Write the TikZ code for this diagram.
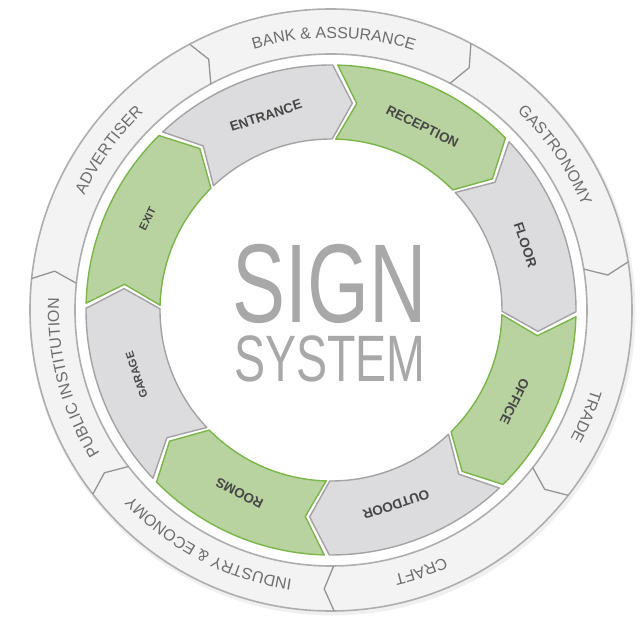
\documentclass[tikz,border=0pt]{standalone}
\usepackage{fontspec}
\usetikzlibrary{decorations.text}
\newfontfamily\signfont[FakeStretch=0.71]{Liberation Sans}
\newfontfamily\segfont{Liberation Sans}
\newfontfamily\ringfam{Liberation Sans}
\definecolor{greyfill}{HTML}{DCDCDE}
\definecolor{greyedge}{HTML}{A3A3A3}
\definecolor{greenfill}{HTML}{B9D3A0}
\definecolor{greenedge}{HTML}{7AB648}
\definecolor{ringfill}{HTML}{F3F3F3}
\definecolor{ringedge}{HTML}{AEAEAE}
\definecolor{labeltext}{HTML}{474747}
\definecolor{ringtext}{HTML}{6E6E6E}
\definecolor{signgrey}{HTML}{A8A8A8}
\tikzset{
  >=latex,
  segment/.style={fill=#1fill, draw=#1edge, line width=1.4pt, line join=round},
}
\tikzstyle{ring}=[fill=ringfill, draw=ringedge, line width=1.6pt, even odd rule]
\tikzstyle{ringshadow}=[fill=black!6, even odd rule]
\tikzstyle{ringline}=[draw=ringedge!85!black, line width=1.3pt, line join=round]
\tikzstyle{seglabel}=[text=labeltext, inner sep=0pt]
\tikzstyle{signtext}=[text=signgrey, inner sep=0pt, anchor=base]
\newcommand{\ringfont}{\ringfam\fontsize{16pt}{18pt}\selectfont\color{ringtext}}
\newcommand{\ringlabel}[2]{%
  \pgfmathsetmacro\ringa{#1+40}\pgfmathsetmacro\ringb{#1-40}%
  \path[decorate, decoration={text along path, text align=center,
    text={|\ringfont|#2}}] (\ringa:272pt) arc[start angle=\ringa, end angle=\ringb, radius=272pt];}

\begin{document}
\begin{tikzpicture}
  \useasboundingbox (-331pt,-307pt) rectangle (311pt,310pt);
  \fill[white] (-331pt,-307pt) rectangle (311pt,310pt);
  % outer ring of sectors
  \fill[ringshadow] (1.5pt,-2.5pt) circle[radius=303pt] (0,0) circle[radius=300pt];
  \filldraw[ring] (0,0) circle[radius=301pt] (0,0) circle[radius=256pt];
  \foreach \b in {118,62.3,9.2,-38,-89.4,-142.3,174}
    \draw[ringline] (\b:256pt) -- ({\b-2}:279pt) -- (\b:301pt);
  \ringlabel{89.4}{BANK {\&}~ASSURANCE}
  \ringlabel{34.7}{GASTRONOMY}
  \ringlabel{-22.6}{TRADE}
  \ringlabel{-71}{CRAFT}
  \ringlabel{-117.6}{INDUSTRY {\&} ECONOMY}
  \ringlabel{194.7}{PUBLIC INSTITUTION}
  \ringlabel{144.3}{ADVERTISER}
  % inner arrow segments, clockwise
  \foreach \s/\e/\kind/\nm/\txt/\fs in {
      134/89/grey/entrance/ENTRANCE/13.5,
      89/44/green/reception/RECEPTION/13.5,
      44/-1/grey/floor/FLOOR/13.5,
      -1/-46/green/office/OFFICE/13.5,
      -46/-91/grey/outdoor/OUTDOOR/13.5,
      -91/-136/green/rooms/ROOMS/13.5,
      -136/-181/grey/garage/GARAGE/11,
      179/134/green/exit/EXIT/11}
  {
    \pgfmathsetmacro\sa{\s-0.6}
    \pgfmathsetmacro\ea{\e+0.6}
    \pgfmathsetmacro\tipa{\ea-5.5}
    \pgfmathsetmacro\nota{\sa-5.5}
    \filldraw[segment=\kind] (\sa:245pt) arc[start angle=\sa, end angle=\ea, radius=245pt]
      -- (\tipa:208pt) -- (\ea:171pt)
      arc[start angle=\ea, end angle=\sa, radius=171pt] -- (\nota:208pt) -- cycle;
    \pgfmathsetmacro\mida{(\s+\e)/2-3}
    \node[seglabel, rotate=\mida-90, font=\segfont\bfseries\fontsize{\fs pt}{\fs pt}\selectfont]
      (\nm) at (\mida:205pt) {\txt};
  }
  % centre title
  \node[signtext, font=\signfont\fontsize{112pt}{112pt}\selectfont] (sign) at (-1pt,-13pt) {SIGN};
  \node[signtext, font=\signfont\fontsize{65.6pt}{66pt}\selectfont] (system) at (-1pt,-72pt) {SYSTEM};
\end{tikzpicture}
\end{document}
